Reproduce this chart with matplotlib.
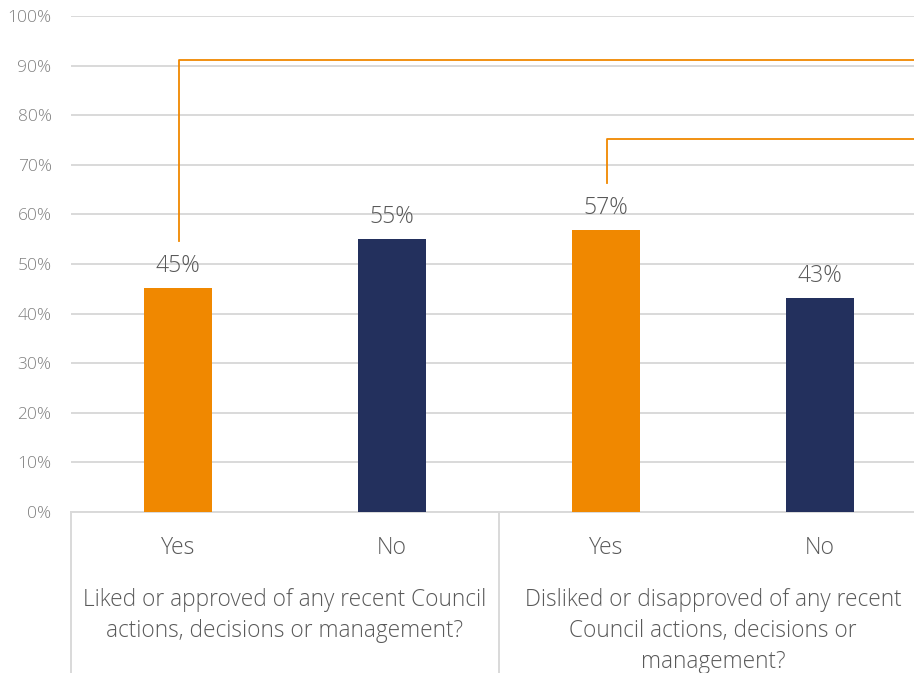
import matplotlib.pyplot as plt
from matplotlib.lines import Line2D

# data
answers = ['Yes', 'No', 'Yes', 'No']
values = [45.1, 55.0, 56.8, 43.2]
groups = ['Liked or approved of any recent Council\nactions, decisions or management?',
          'Disliked or disapproved of any recent\nCouncil actions, decisions or\nmanagement?']
value_labels = ['45%', '55%', '57%', '43%']
yticks = [0, 10, 20, 30, 40, 50, 60, 70, 80, 90, 100]

orange = '#F08800'
navy = '#23305D'
colors = [orange, navy, orange, navy]

plt.rcParams['font.family'] = ['Open Sans', 'DejaVu Sans']

fig = plt.figure(figsize=(9.14, 6.73), dpi=100)
W, H = 914, 673
# axes spans past right edge, like the source
ax = fig.add_axes([71 / W, (H - 512) / H, 856 / W, 496 / H])

x = list(range(len(values)))
ax.bar(x, values, width=0.32, color=colors, zorder=3)
ax.set_xlim(-0.5, 3.5)
ax.set_ylim(0, 100)
ax.set_yticks(yticks)
ax.set_yticklabels([f'{t}%' for t in yticks], color='#808080', fontsize=12.5, fontweight='light')
ax.tick_params(axis='y', length=0, pad=14)
ax.set_xticks([])
ax.grid(axis='y', color='#d9d9d9', linewidth=1.4, zorder=0)
for s in ['top', 'right', 'left']:
    ax.spines[s].set_visible(False)
ax.spines['bottom'].set_color('#d9d9d9')
ax.spines['bottom'].set_linewidth(1.4)

for xi, v, lab in zip(x, values, value_labels):
    ax.text(xi, v + 2.0, lab, ha='center', va='bottom', fontsize=16.5,
            color='#595959', fontweight='light')

# category labels
for xi, a in zip(x, answers):
    ax.text(xi, -7.3, a, ha='center', va='center', fontsize=16.5,
            color='#595959', fontweight='light', clip_on=False)
for gi, g in enumerate(groups):
    ax.text(gi * 2 + 0.5, -15.3, g, ha='center', va='top', fontsize=16.3,
            color='#595959', fontweight='light', linespacing=1.38, clip_on=False)

# separators in category axis
for xs in [-0.5, 1.5]:
    ax.add_line(Line2D([xs, xs], [0, -35], color='#d9d9d9', linewidth=1.4, clip_on=False))

# callout leader lines
ax.plot([0.005, 0.005, 3.6], [54.6, 91.1, 91.1], color=orange, linewidth=1.3, clip_on=False, zorder=4)
ax.plot([2.005, 2.005, 3.6], [66.3, 75.2, 75.2], color=orange, linewidth=1.3, clip_on=False, zorder=4)

fig.savefig('out.png', dpi=100)
